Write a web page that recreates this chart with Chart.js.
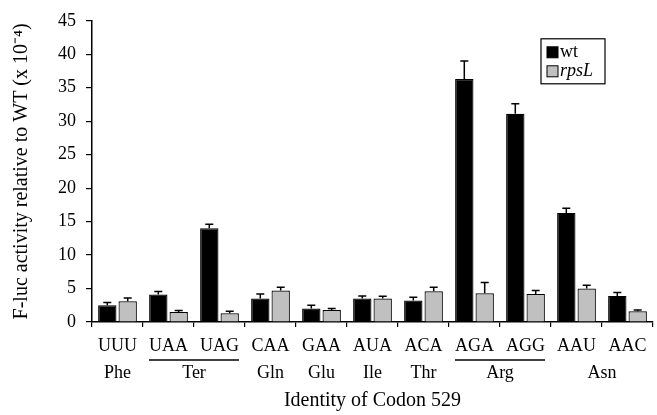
<!DOCTYPE html>
<html>
<head>
<meta charset="utf-8">
<script src="https://cdn.jsdelivr.net/npm/chart.js@4/dist/chart.umd.min.js"></script>
<style>
  html, body { margin: 0; padding: 0; background: #fff; }
  #wrap { width: 657px; height: 415px; }
</style>
</head>
<body>
<div id="wrap"><canvas id="myChart" width="657" height="415"></canvas></div>
<script>
// values (x 10^-4)
const codons = ['UUU', 'UAA', 'UAG', 'CAA', 'GAA', 'AUA', 'ACA', 'AGA', 'AGG', 'AAU', 'AAC'];
const wt = [2.5, 4.1, 14.0, 3.5, 2.0, 3.5, 3.2, 36.3, 31.1, 16.3, 3.9];
const wtErr = [0.4, 0.45, 0.6, 0.7, 0.5, 0.4, 0.5, 2.7, 1.5, 0.7, 0.5];
const rpsL = [3.1, 1.5, 1.3, 4.7, 1.8, 3.5, 4.6, 4.3, 4.2, 5.0, 1.6];
const rpsLErr = [0.5, 0.2, 0.3, 0.5, 0.2, 0.35, 0.6, 1.6, 0.5, 0.5, 0.2];
const yTicks = [0, 5, 10, 15, 20, 25, 30, 35, 40, 45];

// amino acid row under the codons
const aminoAcids = ['Phe', 'Ter', 'Gln', 'Glu', 'Ile', 'Thr', 'Arg', 'Asn'];
const aaFirst = [0, 1, 3, 4, 5, 6, 7, 9];
const aaLast = [0, 2, 3, 4, 5, 6, 8, 10];
const underlined = ['Ter', 'Arg'];

const serif = "'Liberation Serif', 'Times New Roman', serif";

const errorBars = {
  id: 'errorBars',
  afterDatasetsDraw(chart) {
    const ctx = chart.ctx;
    const y = chart.scales.y;
    ctx.save();
    ctx.strokeStyle = '#000';
    ctx.lineWidth = 1.5;
    chart.data.datasets.forEach((ds, i) => {
      const meta = chart.getDatasetMeta(i);
      meta.data.forEach((bar, j) => {
        const top = y.getPixelForValue(ds.data[j] + ds.errors[j]);
        ctx.beginPath();
        ctx.moveTo(bar.x, bar.y);
        ctx.lineTo(bar.x, top);
        ctx.moveTo(bar.x - 4, top);
        ctx.lineTo(bar.x + 4, top);
        ctx.stroke();
      });
    });
    ctx.restore();
  }
};

const groupLabels = {
  id: 'groupLabels',
  afterDraw(chart) {
    const ctx = chart.ctx;
    const x = chart.scales.x;
    const base = x.top;
    ctx.save();
    ctx.fillStyle = '#000';
    ctx.strokeStyle = '#000';
    ctx.lineWidth = 1.5;
    ctx.textAlign = 'center';
    ctx.textBaseline = 'middle';
    aminoAcids.forEach((aa, i) => {
      const x0 = x.getPixelForValue(aaFirst[i]);
      const x1 = x.getPixelForValue(aaLast[i]);
      ctx.font = '18px ' + serif;
      ctx.fillText(aa, (x0 + x1) / 2, base + 51);
      if (underlined.includes(aa)) {
        const half = ctx.measureText(codons[aaFirst[i]]).width / 2;
        ctx.beginPath();
        ctx.moveTo(x0 - half, base + 38);
        ctx.lineTo(x1 + half, base + 38);
        ctx.stroke();
      }
    });
    ctx.restore();
  }
};

const boxLegend = {
  id: 'boxLegend',
  afterDraw(chart) {
    const ctx = chart.ctx;
    const area = chart.chartArea;
    const left = area.right - 112;
    const top = area.top + 18;
    ctx.save();
    ctx.strokeStyle = '#000';
    ctx.lineWidth = 1.2;
    ctx.strokeRect(left, top, 64, 45);
    ctx.textBaseline = 'middle';
    chart.data.datasets.forEach((ds, i) => {
      const cy = top + 13 + i * 19;
      ctx.fillStyle = ds.backgroundColor;
      ctx.fillRect(left + 6, cy - 5, 11, 11);
      ctx.strokeStyle = '#000';
      ctx.lineWidth = 1;
      ctx.strokeRect(left + 6, cy - 5, 11, 11);
      ctx.fillStyle = '#000';
      ctx.font = (i === 1 ? 'italic ' : '') + '18px ' + serif;
      ctx.fillText(ds.label, left + 19, cy);
    });
    ctx.restore();
  }
};

let myChart = document.getElementById('myChart').getContext('2d');
let barChart = new Chart(myChart, {
  type: 'bar',
  data: {
    labels: codons,
    datasets: [{
      label: 'wt',
      data: wt,
      errors: wtErr,
      backgroundColor: '#000000',
      borderColor: '#000000',
      borderWidth: 1.2
    },
    {
      label: 'rpsL',
      data: rpsL,
      errors: rpsLErr,
      backgroundColor: '#c0c0c0',
      borderColor: '#000000',
      borderWidth: 1.2
    }]
  },
  options: {
    responsive: false,
    animation: false,
    layout: { padding: { top: 15, right: 4, left: 6, bottom: 1 } },
    plugins: {
      legend: { display: false },
      tooltip: { enabled: false }
    },
    scales: {
      x: {
        categoryPercentage: 0.84,
        barPercentage: 0.96,
        afterFit(scale) { scale.height = 92; },
        grid: { display: true, drawOnChartArea: false, color: '#000', tickLength: 5, lineWidth: 1.2 },
        border: { color: '#000', width: 1.5 },
        ticks: { color: '#000', font: { family: serif, size: 18 }, padding: 8, maxRotation: 0, autoSkip: false },
        title: { display: true, text: 'Identity of Codon 529', color: '#000', font: { family: serif, size: 20 }, padding: { top: 30, bottom: 1 } }
      },
      y: {
        min: 0,
        max: 45,
        afterBuildTicks(scale) { scale.ticks = yTicks.map(v => ({ value: v })); },
        afterFit(scale) { scale.width = 86; },
        grid: { display: true, drawOnChartArea: false, color: '#000', tickLength: 6, lineWidth: 1.2 },
        border: { color: '#000', width: 1.5 },
        ticks: { color: '#000', font: { family: serif, size: 18 }, padding: 10 },
        title: { display: true, text: 'F-luc activity relative to WT (x 10\u207B\u2074)', color: '#000', font: { family: serif, size: 20 }, padding: { top: 4, bottom: 6 } }
      }
    }
  },
  plugins: [errorBars, groupLabels, boxLegend]
});
</script>
</body>
</html>
